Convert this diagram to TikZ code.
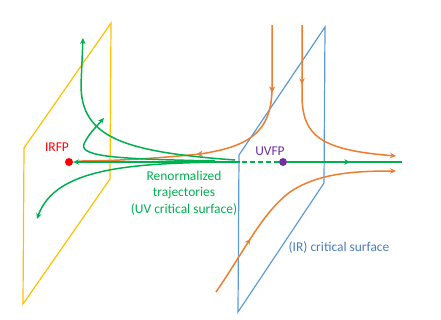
\documentclass[tikz,border=0pt]{standalone}
\usepackage{fontspec}
\setmainfont{Carlito}
\usetikzlibrary{arrows.meta,decorations.markings}
\definecolor{ygold}{HTML}{FFC000}
\definecolor{pblue}{HTML}{5B9BD5}
\definecolor{tblue}{HTML}{4A7EBB}
\definecolor{corange}{HTML}{ED7D31}
\definecolor{cgreen}{HTML}{00B050}
\definecolor{cred}{HTML}{FF0000}
\definecolor{cpurple}{HTML}{7030A0}
\tikzset{
  plane/.style={line width=1.2bp, line join=miter},
  orangeflow/.style={corange, line width=1.5bp},
  greenflow/.style={cgreen, line width=1.5bp},
  tip/.style={-{Stealth[length=6bp,width=5.5bp,inset=2bp]}},
  midarrow/.style={postaction={decorate}, decoration={markings,
      mark=at position #1 with {\arrow{Stealth[length=6bp,width=5.5bp,inset=2bp]}}}},
  fpdot/.style={circle, inner sep=0pt, minimum size=8bp},
  lab/.style={font=\fontsize{13.5}{16.5}\selectfont, inner sep=0pt}
}
\begin{document}
\begin{tikzpicture}[x=1bp,y=-1bp]
\useasboundingbox (0,0) rectangle (441,319);
% planes
\draw[plane, ygold] (111,23) -- (110,179) -- (23,304) -- (24,148) -- cycle;
\draw[plane, pblue] (325,27) -- (324,183) -- (238,312) -- (239,155) -- cycle;

% fixed points
\node[fpdot, fill=cred] (ir) at (69,162) {};
\node[fpdot, fill=cpurple] (uv) at (283,162) {};
\node[lab, text=cred] (irlab) at (57,147) {IRFP};
\node[lab, text=cpurple] (uvlab) at (270,151) {UVFP};

\coordinate (gend) at (402,162);
\coordinate (gdash) at (240,162);

% orange trajectories
\coordinate (oa0) at (272,25);
\coordinate (oa1) at (79,161);
\draw[orangeflow, midarrow=0.23, midarrow=0.6] (oa0) -- (272,90) .. controls (271,135) and (245,147) .. (200,154) .. controls (150,159) and (110,161) .. (oa1);
\coordinate (ob0) at (302,25);
\coordinate (ob1) at (396,156);
\draw[orangeflow, tip, midarrow=0.3] (ob0) -- (302,95) .. controls (302,137) and (322,150) .. (ob1);
\coordinate (oc0) at (216,292);
\coordinate (oc1) at (396,171);
\draw[orangeflow, tip, midarrow=0.27] (oc0) .. controls (245,250) and (262,213) .. (290,192) .. controls (318,173) and (355,171) .. (oc1);

% green trajectories
\coordinate (ga0) at (235,160);
\coordinate (ga1) at (83,38);
\draw[greenflow, tip] (ga0) .. controls (125,152) and (81,138) .. (81,85) -- (ga1);
\coordinate (gb0) at (215,161);
\coordinate (gb1) at (104,118);
\draw[greenflow, tip] (gb0) .. controls (130,159) and (78,158) .. (84,144) .. controls (88,135) and (95,128) .. (gb1);
\coordinate (gc0) at (230,162);
\coordinate (gc1) at (37,219);
\draw[greenflow, tip] (gc0) .. controls (130,163) and (55,168) .. (gc1);

% main green line
\draw[cgreen, line width=2.2bp, midarrow=0.55] (uv) -- (gend);
\draw[cgreen, line width=1.6bp, dashed, dash pattern=on 5bp off 3bp] (uv) -- (gdash);
\draw[cgreen, line width=2.2bp, tip] (gdash) -- (ir);

% texts
\node[lab, text=cgreen, align=center] (rt) at (184,193) {Renormalized\\trajectories\\(UV critical surface)};
\node[lab, text=tblue] (irs) at (339,248) {(IR) critical surface};
\end{tikzpicture}
\end{document}
